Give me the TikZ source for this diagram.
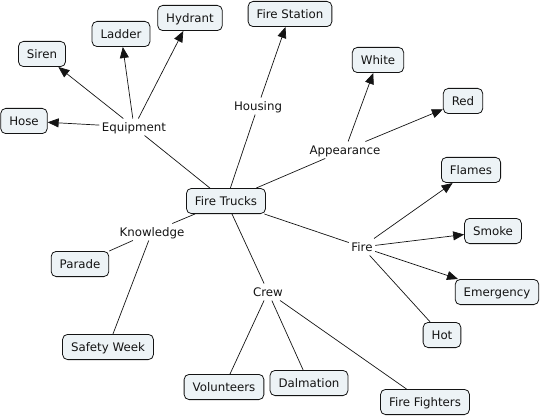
\documentclass[tikz,border=0pt]{standalone}
\usepackage{fontspec}
\setmainfont{DejaVu Sans}
\usetikzlibrary{arrows.meta}
\definecolor{boxfill}{RGB}{237,243,246}
\definecolor{ink}{RGB}{20,20,20}
\begin{document}
\begin{tikzpicture}[x=1pt,y=-1pt, font=\fontsize{11.8}{13}\selectfont,
  concept/.style={draw=ink, fill=boxfill, rounded corners=5pt, inner xsep=8.5pt, inner ysep=8.3pt, text height=8.6pt, text depth=0pt, line width=0.8pt, text=ink},
  link/.style={inner xsep=2.5pt, inner ysep=4pt, text height=8.6pt, text depth=0pt, text=ink},
  conn/.style={draw=ink, line width=0.7pt},
  arr/.style={conn, -{Triangle[length=11pt,width=9pt]}}]
\useasboundingbox (0,0) rectangle (541,417);
% concepts
\node[concept] (ft) at (226,201) {Fire Trucks};
\node[concept] (station) at (290,14) {Fire Station};
\node[concept] (hydrant) at (190,18) {Hydrant};
\node[concept] (ladder) at (121,34) {Ladder};
\node[concept] (siren) at (42,54) {Siren};
\node[concept] (hose) at (24,121) {Hose};
\node[concept] (white) at (378,60) {White};
\node[concept] (red) at (463,101) {Red};
\node[concept] (flames) at (471,170) {Flames};
\node[concept] (smoke) at (493,231) {Smoke};
\node[concept] (emerg) at (497,292) {Emergency};
\node[concept] (hot) at (442,335) {Hot};
\node[concept] (parade) at (80,264) {Parade};
\node[concept] (safety) at (108,347) {Safety Week};
\node[concept] (vol) at (224,387) {Volunteers};
\node[concept] (dal) at (309,383) {Dalmation};
\node[concept] (ff) at (425,402) {Fire Fighters};
% linking phrases
\node[link] (equip) at (134,127) {Equipment};
\node[link] (housing) at (258,106) {Housing};
\node[link] (appear) at (345,150) {Appearance};
\node[link] (know) at (152,232) {Knowledge};
\node[link] (crew) at (268,292) {Crew};
\node[link] (fire) at (362,247) {Fire};
% connections
\draw[conn] (ft) -- (equip);
\draw[conn] (ft) -- (housing);
\draw[conn] (ft) -- (appear);
\draw[conn] (ft) -- (know);
\draw[conn] (ft) -- (crew);
\draw[conn] (ft) -- (fire);
\draw[arr] (equip) -- (hose);
\draw[arr] (equip) -- (siren);
\draw[arr] (equip) -- (ladder);
\draw[arr] (equip) -- (hydrant);
\draw[arr] (housing) -- (station);
\draw[arr] (appear) -- (white);
\draw[arr] (appear) -- (red);
\draw[arr] (fire) -- (flames);
\draw[arr] (fire) -- (smoke);
\draw[arr] (fire) -- (emerg);
\draw[conn] (fire) -- (hot);
\draw[conn] (know) -- (parade);
\draw[conn] (know) -- (safety);
\draw[conn] (crew) -- (vol);
\draw[conn] (crew) -- (dal);
\draw[conn] (crew) -- (ff);
\end{tikzpicture}
\end{document}
